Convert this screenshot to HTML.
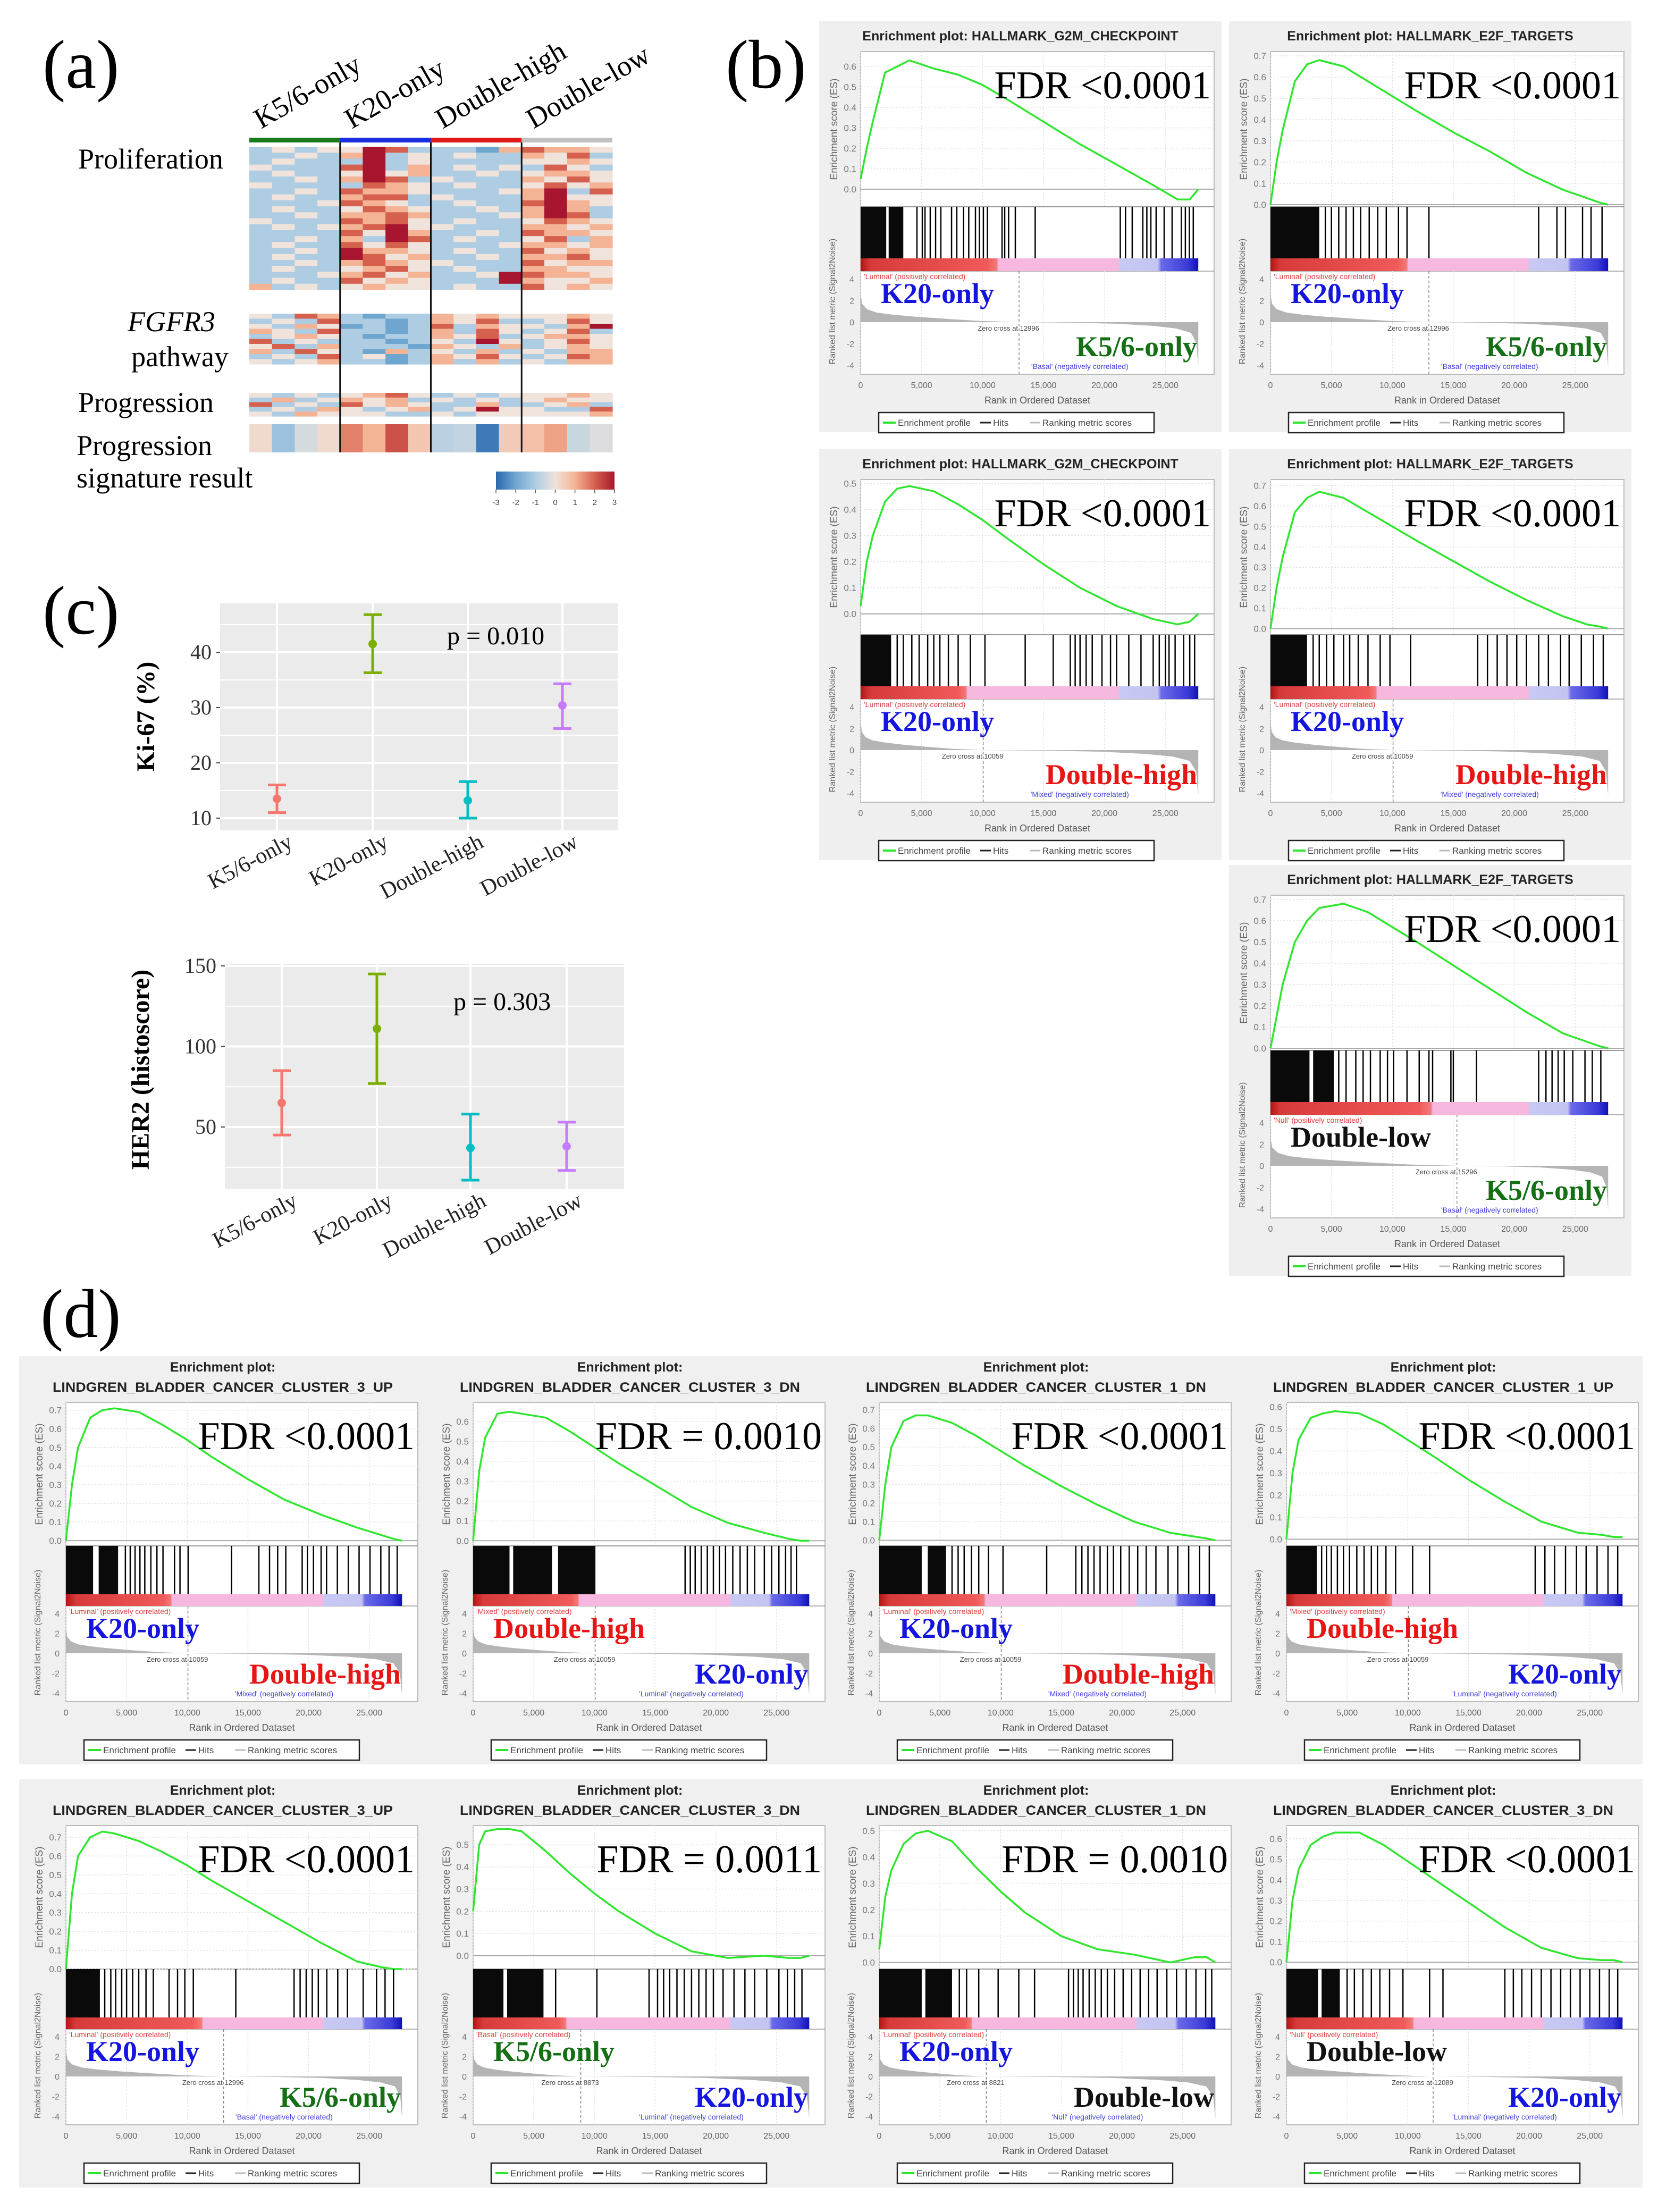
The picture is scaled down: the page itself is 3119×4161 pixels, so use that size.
<!DOCTYPE html>
<html><head><meta charset="utf-8"><style>
html,body{margin:0;padding:0;background:#fff}
svg{display:block}
</style></head><body>
<svg id="fig" xmlns="http://www.w3.org/2000/svg" width="3119" height="4161" viewBox="0 0 3119 4161">
<rect x="0" y="0" width="3119" height="4161" fill="#fff"/>
<g id="pa"></g>
<g id="pb"></g>
<g id="pc"></g>
<g id="pd"></g>
</svg>
<script>
// ===================== DATA =====================
const heatGroups = ["K5/6-only","K20-only","Double-high","Double-low"];
const prolifRows = [
"2323365222145443","2232462323224352","2322262322223343","3222562423232532",
"2322363422323443","2232465232224353","3222254323223534","2232544322234625",
"2322455232224633","2223543223225643","2322354322324642","2232445422234652",
"3222545323223543","2323456332224434","2222536422325443","2232426523223524",
"2322535322234434","2232644323225343","2322653422324453","2232454332225344",
"2322345323224433","2223453422365443","2322534322264334","4232343323225343"];
const fgfrRows = [
"3254212243433343","2325221243522353","3243121252433246","4325221242532352",
"2343212243523443","5232221232632353","3524222143242343","4253214232423244",
"2325231243532354","3234221242423244"];
const progRows = [
"3232345323233343","2423434232323433","5232534322422342","2324323423633225","3243332232333334"];
const sigValues = [0.2,-1.3,-0.4,0.2, 1.6,1.0,2.2,0.6, -0.8,-0.7,-2.7,0.5, 0.7,1.2,-0.6,-0.3];

const cCategories = ["K5/6-only","K20-only","Double-high","Double-low"];
const kiMean = [13.5,41.5,13.2,30.4];
const kiLow  = [11.0,36.3,10.0,26.2];
const kiHigh = [16.0,46.8,16.6,34.3];
const kiTicks = [10,20,30,40];
const herMean = [65,111,37,38];
const herLow  = [45,77,17,23];
const herHigh = [85,145,58,53];
const herTicks = [50,100,150];

const esRanks = [0,500,1000,2000,3000,4000,6000,8000,10000,12000,15000,18000,21000,24000,26000,27000,27700];
const xTicks = [0,5000,10000,15000,20000,25000];
const xTickLabels = ["0","5,000","10,000","15,000","20,000","25,000"];
const metPosFrac = [0,0.01,0.04,0.1,0.2,0.35,0.55,0.75,1];
const metPosVal  = [2.6,1.7,1.2,0.9,0.7,0.5,0.3,0.12,0];
const metNegFrac = [0,0.3,0.55,0.75,0.88,0.96,0.99,1];
const metNegVal  = [0,-0.05,-0.15,-0.35,-0.6,-1.0,-2.0,-4.2];

const es_b1 = [0.05,0.2,0.33,0.57,0.6,0.63,0.59,0.56,0.51,0.44,0.33,0.22,0.12,0.02,-0.05,-0.05,0.0];
const es_b2 = [0.0,0.2,0.35,0.58,0.66,0.68,0.65,0.58,0.51,0.44,0.34,0.25,0.15,0.07,0.03,0.01,0.0];
const es_b3 = [0.03,0.2,0.3,0.43,0.48,0.49,0.47,0.42,0.36,0.29,0.19,0.1,0.03,-0.02,-0.04,-0.03,0.0];
const es_b4 = [0.0,0.2,0.35,0.57,0.64,0.67,0.64,0.57,0.5,0.43,0.33,0.23,0.14,0.06,0.02,0.01,0.0];
const es_b5 = [0.0,0.15,0.3,0.5,0.6,0.66,0.68,0.64,0.57,0.5,0.39,0.28,0.17,0.07,0.03,0.01,0.0];
const es_d1 = [0.0,0.3,0.5,0.66,0.7,0.71,0.69,0.62,0.54,0.45,0.33,0.22,0.14,0.07,0.03,0.01,0.0];
const es_d2 = [0.0,0.35,0.52,0.64,0.65,0.64,0.62,0.55,0.47,0.39,0.28,0.17,0.09,0.04,0.01,0.0,0.0];
const es_d3 = [0.0,0.3,0.5,0.64,0.67,0.67,0.63,0.56,0.48,0.4,0.29,0.19,0.1,0.04,0.02,0.01,0.0];
const es_d4 = [0.0,0.3,0.45,0.55,0.57,0.58,0.57,0.52,0.45,0.38,0.27,0.17,0.08,0.03,0.02,0.01,0.01];
const es_d5 = [0.0,0.4,0.6,0.7,0.73,0.72,0.68,0.62,0.55,0.47,0.36,0.25,0.14,0.04,0.01,0.0,0.0];
const es_d6 = [0.2,0.5,0.56,0.57,0.57,0.56,0.47,0.37,0.28,0.2,0.1,0.02,-0.01,0.0,-0.01,-0.01,0.0];
const es_d7 = [0.05,0.25,0.35,0.45,0.49,0.5,0.46,0.36,0.27,0.19,0.1,0.05,0.03,0.0,0.02,0.02,0.0];
const es_d8 = [0.0,0.3,0.45,0.57,0.61,0.63,0.63,0.57,0.49,0.41,0.29,0.17,0.07,0.02,0.01,0.01,0.0];

const dense_b1 = [[0,2100],[2300,3500]];
const hits_b1 = [4620,5060,5280,5710,6150,6580,7460,7890,8440,8870,9420,9740,10070,10400,11600,11820,12140,12690,14320,21300,21730,22280,23150,23480,23810,24240,24900,25550,26310,26640,26970,27290];
const dense_b2 = [[0,4000]];
const hits_b2 = [4500,5000,5600,6200,6800,7400,8100,8800,9500,10500,11200,13000,22000,23500,24200,25600,26300,27200];
const dense_b3 = [[0,2500]];
const hits_b3 = [3000,3500,4200,4800,5500,6000,6500,7200,8000,9000,10200,13500,15800,17200,17600,18000,18500,19000,19800,20500,21000,22000,23000,24000,24500,25000,25300,25800,26500,27000,27400];
const dense_b4 = [[0,3000]];
const hits_b4 = [3500,4000,4600,5200,6000,6500,7200,8000,9000,9800,11500,17000,17800,18600,19400,20200,21000,22000,22800,23800,24500,25500,26500,27300];
const dense_b5 = [[0,3200],[3500,5200]];
const hits_b5 = [5600,6200,7000,7600,8200,9000,9600,10100,11200,12200,13000,13300,14800,15000,16900,22000,22600,23100,23600,24100,24800,25800,26400,27100];
const dense_d1 = [[0,2240],[2700,4300]];
const hits_d1 = [4900,5300,5700,6100,6500,7000,7500,8000,8950,9400,10070,13650,15900,16780,17450,18120,19470,19900,20400,21030,21480,22370,23270,24160,25060,25950,26630,27300];
const dense_d2 = [[0,3000],[3300,6500],[7000,10080]];
const hits_d2 = [17470,17900,18300,18800,19300,19800,20300,20800,21400,22000,22600,23200,24000,24600,25200,25750,26200,26650];
const dense_d3 = [[0,3500],[4000,5500]];
const hits_d3 = [6000,6500,7000,7600,8200,9000,10200,13800,16200,16700,17200,17700,18200,18800,19300,19900,20600,21300,22000,22800,23800,24600,25500,26400,27200];
const dense_d4 = [[0,2500]];
const hits_d4 = [2900,3300,3700,4200,4700,5200,5800,6400,7000,7500,8200,9000,10400,11800,20500,21300,22100,23000,23900,24700,25600,26500,27300];
const dense_d5 = [[0,2800]];
const hits_d5 = [3200,3700,4100,4600,5000,5500,6000,6600,7200,8500,9200,9800,10500,14000,18800,19300,19800,20300,20800,21500,22400,23200,24500,25600,26300,27000];
const dense_d6 = [[0,2500],[2800,5800]];
const hits_d6 = [6800,10200,14500,15200,15700,16200,16800,17400,18000,18600,19200,19800,20600,21500,22400,23200,24200,25200,25900,26500,27100];
const dense_d7 = [[0,3500],[3800,6000]];
const hits_d7 = [6600,7200,8200,9800,11500,12800,15600,16000,16400,16800,17300,17800,18300,18800,19400,20100,20800,21500,22200,22900,23700,24500,25300,26100,26900,27400];
const dense_d8 = [[0,2600],[2900,4400]];
const hits_d8 = [5000,5600,6300,7000,7700,8500,9600,11800,12900,18000,18700,19400,20200,21000,21800,22600,23400,24200,25000,25800,26600,27300];

// ===================== HELPERS =====================
const NS="http://www.w3.org/2000/svg";
function mk(parent,tag,attrs,text){
  const e=document.createElementNS(NS,tag);
  for(const k in attrs) e.setAttribute(k,attrs[k]);
  if(text!==undefined) e.textContent=text;
  parent.appendChild(e);
  return e;
}
const SERIF='"Liberation Serif", "DejaVu Serif", serif';
const SANS='"Liberation Sans", "DejaVu Sans", sans-serif';

// ===================== PANEL A =====================
(function(){
  const g=document.getElementById('pa');
  const lab=mk(g,'text',{x:80,y:165,'font-family':SERIF,'font-size':130},'(a)');
   
  const left=469, colW=683/16;
  const palette=["#2b67ad","#6fa6d0","#aecde3","#efe3dc","#f4b394","#d5604e","#a7162e"];
  function colorFor(v){
    const t=Math.max(0,Math.min(6,v+3)); const i=Math.floor(Math.min(5,t)); const f=t-i;
    const c1=palette[i],c2=palette[i+1];
    const p=s=>[1,3,5].map(j=>parseInt(s.substr(j,2),16));
    const a=p(c1),b=p(c2);
    return 'rgb('+a.map((x,k)=>Math.round(x+(b[k]-x)*f)).join(',')+')';
  }
  function block(rows,top,bottom,name){
    const bg=mk(g,'g',{});
     
    const h=(bottom-top)/rows.length;
    rows.forEach((r,ri)=>{
      for(let c=0;c<16;c++){
        const v=parseInt(r[c])-3;
        const cell=mk(bg,'rect',{x:left+c*colW,y:top+ri*h,width:colW+0.6,height:h+0.6,fill:colorFor(v)});
         
      }
    });
  }
  block(prolifRows,276,545,'proliferation-heatmap');
  block(fgfrRows,590,685,'fgfr3-heatmap');
  block(progRows,739,783,'progression-heatmap');
  sigValues.forEach((v,c)=>{
    const cell=mk(g,'rect',{x:left+c*colW,y:798,width:colW+0.6,height:53,fill:colorFor(v)});
     
  });
  const gcols=["#1a7a1a","#1a2de0","#e01818","#c0c0c0"];
  heatGroups.forEach((name,i)=>{
    const bar=mk(g,'rect',{x:left+i*4*colW,y:259,width:4*colW,height:9,fill:gcols[i]});
     
    const t=mk(g,'text',{x:left+i*4*colW+22,y:243,'font-family':SERIF,'font-size':54,transform:'rotate(-30 '+(left+i*4*colW+22)+' 243)'},name);
     
  });
  [1,2,3].forEach(i=>{
    const l=mk(g,'line',{x1:left+i*4*colW,x2:left+i*4*colW,y1:268,y2:851,stroke:'#111','stroke-width':3});
     
  });
  const labels=[["Proliferation",147,317,'start',''],["FGFR3",405,623,'end','italic'],["pathway",430,689,'end',''],
    ["Progression",147,775,'start',''],["Progression",144,856,'start',''],["signature result",144,917,'start','']];
  labels.forEach(l=>{
    const t=mk(g,'text',{x:l[1],y:l[2],'font-family':SERIF,'font-size':54,'text-anchor':l[3],'font-style':l[4]||'normal'},l[0]);
     
  });
  const defs=mk(g,'defs',{});
  const lg=mk(defs,'linearGradient',{id:'hmscale',x1:0,x2:1,y1:0,y2:0});
  palette.forEach((c,i)=>mk(lg,'stop',{offset:i/6,'stop-color':c}));
  const sc=mk(g,'rect',{x:933,y:887,width:223,height:34,fill:'url(#hmscale)'});
   
  [-3,-2,-1,0,1,2,3].forEach((v,i)=>{
    const x=933+i*223/6;
    mk(g,'line',{x1:x,x2:x,y1:921,y2:928,stroke:'#555','stroke-width':1.5});
    const t=mk(g,'text',{x:x,y:950,'font-family':SANS,'font-size':15,'text-anchor':'middle',fill:'#444'},String(v));
     
  });
})();

// ===================== PANEL C =====================
(function(){
  const g=document.getElementById('pc');
  const lab=mk(g,'text',{x:80,y:1192,'font-family':SERIF,'font-size':130},'(c)');
   
  const colors=["#f8766d","#7cae00","#00bfc4","#c77cff"];
  function chart(opt){
    const cg=mk(g,'g',{});
     
    const yv=v=>opt.y0 - (v-opt.v0)*opt.k;
    const bg=mk(cg,'rect',{x:opt.l,y:opt.t,width:opt.r-opt.l,height:opt.b-opt.t,fill:'#ebebeb'});
     
    opt.minor.forEach(v=>{ const y=yv(v); if(y>opt.t&&y<opt.b) mk(cg,'line',{x1:opt.l,x2:opt.r,y1:y,y2:y,stroke:'#fff','stroke-width':2}); });
    opt.ticks.forEach(v=>{
      const y=yv(v);
      const gl=mk(cg,'line',{x1:opt.l,x2:opt.r,y1:y,y2:y,stroke:'#fff','stroke-width':4});
       
      mk(cg,'line',{x1:opt.l-7,x2:opt.l,y1:y,y2:y,stroke:'#444','stroke-width':2});
      const t=mk(cg,'text',{x:opt.l-16,y:y+13,'font-family':SERIF,'font-size':40,'text-anchor':'end',fill:'#333'},String(v));
       
    });
    const xs=opt.xs;
    cCategories.forEach((c,i)=>{
      const x=xs[i];
      mk(cg,'line',{x1:x,x2:x,y1:opt.t,y2:opt.b,stroke:'#fff','stroke-width':4});
      const t=mk(cg,'text',{x:x+32,y:opt.b+30,'font-family':SERIF,'font-size':42,'text-anchor':'end',transform:'rotate(-28 '+(x+32)+' '+(opt.b+30)+')',fill:'#222'},c);
       
      const eg=mk(cg,'g',{stroke:colors[i],'stroke-width':5,fill:colors[i]});
       
      mk(eg,'line',{x1:x,x2:x,y1:yv(opt.lo[i]),y2:yv(opt.hi[i])});
      mk(eg,'line',{x1:x-17,x2:x+17,y1:yv(opt.lo[i]),y2:yv(opt.lo[i])});
      mk(eg,'line',{x1:x-17,x2:x+17,y1:yv(opt.hi[i]),y2:yv(opt.hi[i])});
      const p=mk(eg,'circle',{cx:x,cy:yv(opt.mean[i]),r:8,stroke:'none'});
       
    });
    const yt=mk(cg,'text',{x:opt.tx,y:opt.ty,'font-family':SERIF,'font-size':48,'font-weight':'bold','text-anchor':'middle',transform:'rotate(-90 '+opt.tx+' '+opt.ty+')'},opt.title);
     
    const pv=mk(cg,'text',{x:opt.px,y:opt.py,'font-family':SERIF,'font-size':48},opt.p);
     
  }
  chart({name:'ki67-chart',l:414,r:1162,t:1135,b:1562,y0:1539,v0:10,k:10.4,ticks:kiTicks,minor:[15,25,35,45],
    xs:[521,701,880,1058],mean:kiMean,lo:kiLow,hi:kiHigh,title:'Ki-67 (%)',tx:290,ty:1348,p:'p = 0.010',px:841,py:1212});
  chart({name:'her2-chart',l:423,r:1174,t:1813,b:2237,y0:2120,v0:50,k:3.03,ticks:herTicks,minor:[25,75,125],
    xs:[530,709,885,1066],mean:herMean,lo:herLow,hi:herHigh,title:'HER2 (histoscore)',tx:280,ty:2012,p:'p = 0.303',px:853,py:1900});
})();

// ===================== GSEA =====================
const LAY={b:{esTop:57,esBot:349,hitBot:446,colBot:470,rankBot:664},
           d:{esTop:87,esBot:357,hitBot:448,colBot:470,rankBot:650}};
const LABCOL={"K20-only":"#1515e0","K5/6-only":"#157015","Double-high":"#e81515","Double-low":"#111"};
let gradId=0;
function gsea(parent,c){
  const L=LAY[c.kind];
  const g=mk(parent,'g',{});
   
  const pl=c.pl, pw=c.pw, oy=c.oy;
  const X=r=>pl + r/29000*pw;
  const esT=oy+L.esTop, esB=oy+L.esBot;
  const Y=v=>esT + (c.ymax-v)/(c.ymax-c.ymin)*(esB-esT);
  if(c.kind==='b'){
    const t=mk(g,'text',{x:pl-78+757/2,y:oy+36,'font-family':SANS,'font-size':25,'font-weight':'bold','text-anchor':'middle',fill:'#222'},'Enrichment plot: '+c.title);
     
  } else {
    const cx=pl-87+382;
    const t1=mk(g,'text',{x:cx,y:oy+29,'font-family':SANS,'font-size':25,'font-weight':'bold','text-anchor':'middle',fill:'#222'},'Enrichment plot:');
     
    const t2=mk(g,'text',{x:cx,y:oy+67,'font-family':SANS,'font-size':25,'font-weight':'bold','text-anchor':'middle',fill:'#222',textLength:640,lengthAdjust:'spacingAndGlyphs'},c.title);
     
  }
  mk(g,'rect',{x:pl,y:esT,width:pw,height:oy+L.rankBot-esT,fill:'#fff',stroke:'#bbb','stroke-width':2});
  mk(g,'line',{x1:pl,x2:pl+pw,y1:esB,y2:esB,stroke:'#999','stroke-width':2});
  mk(g,'line',{x1:pl,x2:pl+pw,y1:oy+L.colBot,y2:oy+L.colBot,stroke:'#999','stroke-width':1.5});
  xTicks.forEach(r=>{ mk(g,'line',{x1:X(r),x2:X(r),y1:esT,y2:esB,stroke:'#e4e4e4','stroke-width':1.5,'stroke-dasharray':'3,3'});
                      mk(g,'line',{x1:X(r),x2:X(r),y1:oy+L.colBot,y2:oy+L.rankBot,stroke:'#e4e4e4','stroke-width':1.5,'stroke-dasharray':'3,3'}); });
  c.ticks.forEach(v=>{
    mk(g,'line',{x1:pl,x2:pl+pw,y1:Y(v),y2:Y(v),stroke:'#e4e4e4','stroke-width':1.5,'stroke-dasharray':'3,3'});
    const t=mk(g,'text',{x:pl-8,y:Y(v)+6,'font-family':SANS,'font-size':17,'text-anchor':'end',fill:'#777'},v.toFixed(1));
     
  });
  const ya=mk(g,'text',{x:pl-44,y:(esT+esB)/2,'font-family':SANS,'font-size':19,'text-anchor':'middle',fill:'#666',transform:'rotate(-90 '+(pl-44)+' '+((esT+esB)/2)+')'},'Enrichment score (ES)');
   
  if(c.ymin<0) mk(g,'line',{x1:pl,x2:pl+pw,y1:Y(0),y2:Y(0),stroke:'#aaa','stroke-width':2});
  const pts=esRanks.map((r,i)=>X(r).toFixed(1)+','+Y(c.es[i]).toFixed(1)).join(' ');
  const pc=mk(g,'polyline',{points:pts,fill:'none',stroke:'#2ee62e','stroke-width':3.5,'stroke-linejoin':'round'});
   
  const hg=mk(g,'g',{stroke:'#000','stroke-width':2.5});
   
  c.dense.forEach(bk=>{
    const br=mk(hg,'rect',{x:X(bk[0]),y:esB,width:X(bk[1])-X(bk[0]),height:L.hitBot-L.esBot,fill:'#0a0a0a',stroke:'none'});
     
  });
  c.hits.forEach(r=>{ const hl=mk(hg,'line',{x1:X(r),x2:X(r),y1:esB,y2:oy+L.hitBot});   });
  const id='band'+(gradId++);
  const defs=mk(g,'defs',{});
  const lg=mk(defs,'linearGradient',{id:id,x1:0,x2:1,y1:0,y2:0});
  const zf=c.zc/27700;
  [[0,'#b41414'],[0.03,'#d83a3a'],[zf*0.8,'#f05a5a'],[zf*0.86,'#f47a7a'],[zf*0.87,'#f6b8de'],[0.76,'#f6b8de'],[0.77,'#c8c8f4'],[0.88,'#c4c4f2'],[0.89,'#6a6ae8'],[0.97,'#3a3ad8'],[1,'#1010b8']]
    .forEach(s=>mk(lg,'stop',{offset:Math.max(0,Math.min(1,s[0])),'stop-color':s[1]}));
  const band=mk(g,'rect',{x:pl,y:oy+L.hitBot,width:X(27700)-pl,height:L.colBot-L.hitBot,fill:'url(#'+id+')'});
   
  const zeroY=oy+(L.colBot+L.rankBot)/2-1, unit=(L.rankBot-L.colBot)/9.6;
  const mpts=[X(0)+','+zeroY];
  metPosFrac.forEach((f,i)=>mpts.push(X(f*c.zc)+','+(zeroY-metPosVal[i]*unit)));
  metNegFrac.forEach((f,i)=>mpts.push(X(c.zc+f*(27700-c.zc))+','+(zeroY-metNegVal[i]*unit)));
  mpts.push(X(27700)+','+zeroY);
  const mp=mk(g,'polygon',{points:mpts.join(' '),fill:'#b4b4b4'});
   
  [4,2,0,-2,-4].forEach(v=>{ const t=mk(g,'text',{x:pl-12,y:zeroY-v*unit+6,'font-family':SANS,'font-size':16,'text-anchor':'end',fill:'#777'},String(v));   });
  mk(g,'line',{x1:X(c.zc),x2:X(c.zc),y1:oy+L.colBot,y2:oy+L.rankBot,stroke:'#888','stroke-width':1.5,'stroke-dasharray':'5,4'});
  const zt=mk(g,'text',{x:X(c.zc)-20,y:zeroY+16,'font-family':SANS,'font-size':13,fill:'#444','text-anchor':'middle'},'Zero cross at '+c.zcLabel);
   
  const ra=mk(g,'text',{x:pl-48,y:oy+(L.colBot+L.rankBot)/2-40,'font-family':SANS,'font-size':16,'text-anchor':'middle',fill:'#666',transform:'rotate(-90 '+(pl-48)+' '+(oy+(L.colBot+L.rankBot)/2-40)+')'},'Ranked list metric (Signal2Noise)');
   
  const pt=mk(g,'text',{x:pl+6,y:oy+L.colBot+15,'font-family':SANS,'font-size':14,fill:'#e04040'},"'"+c.pos+"' (positively correlated)");
   
  const nt=mk(g,'text',{x:pl+pw*0.62,y:oy+L.rankBot-10,'font-family':SANS,'font-size':14,fill:'#4040e0','text-anchor':'middle'},"'"+c.neg+"' (negatively correlated)");
   
  xTicks.forEach((r,i)=>{ const t=mk(g,'text',{x:X(r),y:oy+L.rankBot+26,'font-family':SANS,'font-size':16,'text-anchor':'middle',fill:'#666'},xTickLabels[i]);   });
  const xa=mk(g,'text',{x:pl+pw/2,y:oy+L.rankBot+55,'font-family':SANS,'font-size':18,'text-anchor':'middle',fill:'#555'},'Rank in Ordered Dataset');
   
  const lgG=mk(g,'g',{});
   
  const ly=oy+L.rankBot+72;
  mk(lgG,'rect',{x:pl+34,y:ly,width:518,height:38,fill:'#fff',stroke:'#222','stroke-width':2.5});
  mk(lgG,'line',{x1:pl+42,x2:pl+66,y1:ly+19,y2:ly+19,stroke:'#2ee62e','stroke-width':4});
  mk(lgG,'text',{x:pl+70,y:ly+25,'font-family':SANS,'font-size':17,fill:'#444'},'Enrichment profile');
  mk(lgG,'line',{x1:pl+225,x2:pl+245,y1:ly+19,y2:ly+19,stroke:'#222','stroke-width':3});
  mk(lgG,'text',{x:pl+249,y:ly+25,'font-family':SANS,'font-size':17,fill:'#444'},'Hits');
  mk(lgG,'line',{x1:pl+318,x2:pl+338,y1:ly+19,y2:ly+19,stroke:'#bbb','stroke-width':3});
  mk(lgG,'text',{x:pl+342,y:ly+25,'font-family':SANS,'font-size':17,fill:'#444'},'Ranking metric scores');
  const ft=mk(g,'text',{x:pl+pw-6,y:esT+88,'font-family':SERIF,'font-size':74,'text-anchor':'end',fill:'#000'},c.fdr);
   
  const up=mk(g,'text',{x:pl+38,y:oy+L.colBot+60,'font-family':SERIF,'font-size':54,'font-weight':'bold',fill:LABCOL[c.up]},c.up);
   
  const dn=mk(g,'text',{x:pl+pw-32,y:oy+L.rankBot-34,'font-family':SERIF,'font-size':54,'font-weight':'bold','text-anchor':'end',fill:LABCOL[c.down]},c.down);
   
}

(function(){
  const g=document.getElementById('pb');
  const lab=mk(g,'text',{x:1365,y:165,'font-family':SERIF,'font-size':130},'(b)');
   
  const boxes=[[1541,40],[2312,40],[1541,845],[2312,845],[2312,1627]];
  boxes.forEach(b=>{ const r=mk(g,'rect',{x:b[0],y:b[1],width:757,height:773,fill:'#efefef'});   });
  const defs=[
    {ox:1541,oy:40,title:'HALLMARK_G2M_CHECKPOINT',es:es_b1,ymin:-0.086,ymax:0.673,ticks:[0,0.1,0.2,0.3,0.4,0.5,0.6],dense:dense_b1,hits:hits_b1,zc:12996,zcLabel:'12996',up:'K20-only',down:'K5/6-only',pos:'Luminal',neg:'Basal',fdr:'FDR <0.0001'},
    {ox:2312,oy:40,title:'HALLMARK_E2F_TARGETS',es:es_b2,ymin:-0.01,ymax:0.72,ticks:[0,0.1,0.2,0.3,0.4,0.5,0.6,0.7],dense:dense_b2,hits:hits_b2,zc:12996,zcLabel:'12996',up:'K20-only',down:'K5/6-only',pos:'Luminal',neg:'Basal',fdr:'FDR <0.0001'},
    {ox:1541,oy:845,title:'HALLMARK_G2M_CHECKPOINT',es:es_b3,ymin:-0.08,ymax:0.515,ticks:[0,0.1,0.2,0.3,0.4,0.5],dense:dense_b3,hits:hits_b3,zc:10059,zcLabel:'10059',up:'K20-only',down:'Double-high',pos:'Luminal',neg:'Mixed',fdr:'FDR <0.0001'},
    {ox:2312,oy:845,title:'HALLMARK_E2F_TARGETS',es:es_b4,ymin:-0.03,ymax:0.73,ticks:[0,0.1,0.2,0.3,0.4,0.5,0.6,0.7],dense:dense_b4,hits:hits_b4,zc:10059,zcLabel:'10059',up:'K20-only',down:'Double-high',pos:'Luminal',neg:'Mixed',fdr:'FDR <0.0001'},
    {ox:2312,oy:1627,title:'HALLMARK_E2F_TARGETS',es:es_b5,ymin:-0.01,ymax:0.72,ticks:[0,0.1,0.2,0.3,0.4,0.5,0.6,0.7],dense:dense_b5,hits:hits_b5,zc:15296,zcLabel:'15296',up:'Double-low',down:'K5/6-only',pos:'Null',neg:'Basal',fdr:'FDR <0.0001'}
  ];
  defs.forEach(d=>{ d.kind='b'; d.pl=d.ox+78; d.pw=665; gsea(g,d); });
})();

(function(){
  const g=document.getElementById('pd');
  const lab=mk(g,'text',{x:76,y:2515,'font-family':SERIF,'font-size':130},'(d)');
   
  [2551,3347].forEach(y=>{ const r=mk(g,'rect',{x:36,y:y,width:3054,height:768,fill:'#f0f0f0'});   });
  const pls=[124,890,1654,2420];
  const T7=[0,0.1,0.2,0.3,0.4,0.5,0.6,0.7], T6=[0,0.1,0.2,0.3,0.4,0.5,0.6], T5=[0,0.1,0.2,0.3,0.4,0.5];
  const defs=[
    {pl:pls[0],oy:2551,title:'LINDGREN_BLADDER_CANCER_CLUSTER_3_UP',es:es_d1,ymin:-0.028,ymax:0.742,ticks:T7,dense:dense_d1,hits:hits_d1,zc:10059,zcLabel:'10059',up:'K20-only',down:'Double-high',pos:'Luminal',neg:'Mixed',fdr:'FDR <0.0001'},
    {pl:pls[1],oy:2551,title:'LINDGREN_BLADDER_CANCER_CLUSTER_3_DN',es:es_d2,ymin:-0.026,ymax:0.697,ticks:T6,dense:dense_d2,hits:hits_d2,zc:10059,zcLabel:'10059',up:'Double-high',down:'K20-only',pos:'Mixed',neg:'Luminal',fdr:'FDR = 0.0010'},
    {pl:pls[2],oy:2551,title:'LINDGREN_BLADDER_CANCER_CLUSTER_1_DN',es:es_d3,ymin:-0.03,ymax:0.74,ticks:T7,dense:dense_d3,hits:hits_d3,zc:10059,zcLabel:'10059',up:'K20-only',down:'Double-high',pos:'Luminal',neg:'Mixed',fdr:'FDR <0.0001'},
    {pl:pls[3],oy:2551,title:'LINDGREN_BLADDER_CANCER_CLUSTER_1_UP',es:es_d4,ymin:-0.03,ymax:0.62,ticks:T6,dense:dense_d4,hits:hits_d4,zc:10059,zcLabel:'10059',up:'Double-high',down:'K20-only',pos:'Mixed',neg:'Luminal',fdr:'FDR <0.0001'},
    {pl:pls[0],oy:3347,title:'LINDGREN_BLADDER_CANCER_CLUSTER_3_UP',es:es_d5,ymin:0,ymax:0.762,ticks:T7,dense:dense_d5,hits:hits_d5,zc:12996,zcLabel:'12996',up:'K20-only',down:'K5/6-only',pos:'Luminal',neg:'Basal',fdr:'FDR <0.0001'},
    {pl:pls[1],oy:3347,title:'LINDGREN_BLADDER_CANCER_CLUSTER_3_DN',es:es_d6,ymin:-0.06,ymax:0.586,ticks:T5,dense:dense_d6,hits:hits_d6,zc:8873,zcLabel:'8873',up:'K5/6-only',down:'K20-only',pos:'Basal',neg:'Luminal',fdr:'FDR = 0.0011'},
    {pl:pls[2],oy:3347,title:'LINDGREN_BLADDER_CANCER_CLUSTER_1_DN',es:es_d7,ymin:-0.025,ymax:0.52,ticks:T5,dense:dense_d7,hits:hits_d7,zc:8821,zcLabel:'8821',up:'K20-only',down:'Double-low',pos:'Luminal',neg:'Null',fdr:'FDR = 0.0010'},
    {pl:pls[3],oy:3347,title:'LINDGREN_BLADDER_CANCER_CLUSTER_3_DN',es:es_d8,ymin:-0.033,ymax:0.664,ticks:T6,dense:dense_d8,hits:hits_d8,zc:12089,zcLabel:'12089',up:'Double-low',down:'K20-only',pos:'Null',neg:'Luminal',fdr:'FDR <0.0001'}
  ];
  defs.forEach(d=>{ d.kind='d'; d.pw=662; gsea(g,d); });
})();
</script>
</body></html>
